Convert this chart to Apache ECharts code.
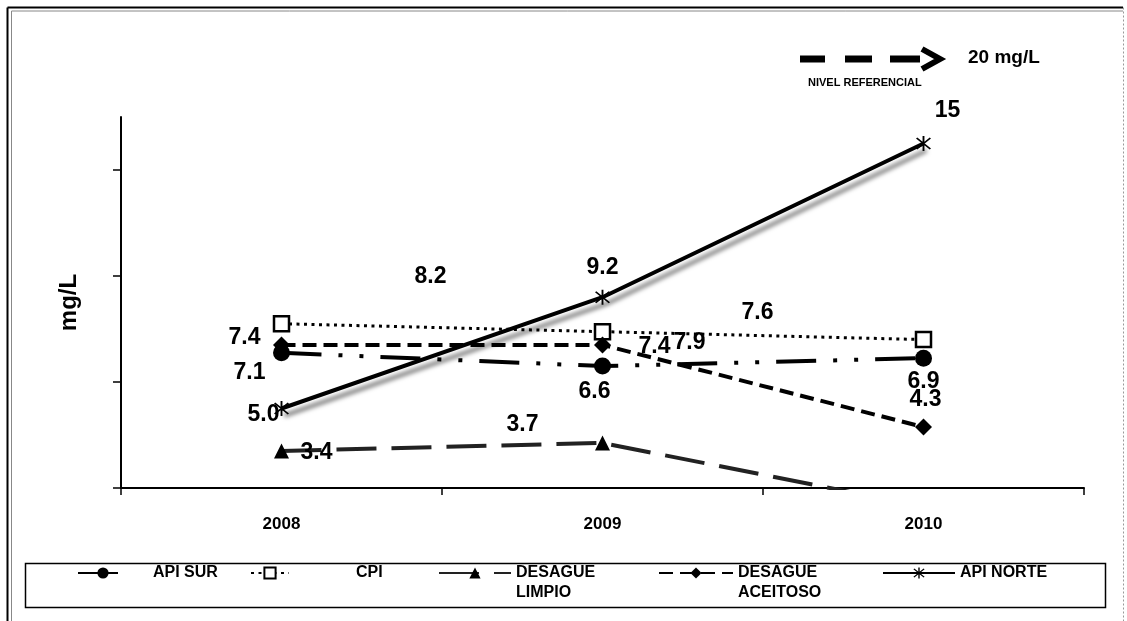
<!DOCTYPE html>
<html>
<head>
<meta charset="utf-8">
<style>
  html, body { margin: 0; padding: 0; background: #fff; }
  #chart { width: 1127px; height: 621px; }
</style>
<script src="https://cdn.jsdelivr.net/npm/echarts@6/dist/echarts.min.js"></script>
</head>
<body>
<div id="chart"></div>
<script>
// Years on the category axis
const years = ['2008', '2009', '2010'];

// Concentrations in mg/L per sampling point
const apiSur = [7.1, 6.6, 6.9];
const cpi = [8.2, 7.9, 7.6];
const desagueLimpio = [3.4, 3.7, 1.3];
const desagueAceitoso = [7.4, 7.4, 4.3];
const apiNorte = [5.0, 9.2, 15];

const seriesNames = ['API SUR', 'CPI', 'DESAGUE\nLIMPIO', 'DESAGUE\nACEITOSO', 'API NORTE'];

// Value-axis ticks (no tick labels are printed)
const yTicks = [2, 6, 10, 14];

// Where each value label sits relative to its point (null = no label)
const labelOffsets = {
  apiSur:   [[-32, 20], [-8, 26], [0, 24]],
  cpi:      [[149, -47], [87, 11], [-166, -27]],
  limpio:   [[35, 2], [-80, -18], null],
  aceitoso: [[-37, -7], [52, 2], [2, -27]],
  norte:    [[-18, 6], [0, -30], [24, -33]]
};

const FONT = '"Liberation Sans", Arial, sans-serif';

function fmt(v) {
  return (v >= 10 && Number.isInteger(v)) ? String(v) : v.toFixed(1);
}

function withLabels(values, offsets) {
  return values.map((v, i) => {
    const off = offsets[i];
    return {
      value: v,
      label: off ? { show: true, position: 'inside', offset: off } : { show: false }
    };
  });
}

const labelStyle = {
  show: true,
  formatter: p => fmt(p.value),
  fontFamily: FONT,
  fontSize: 23,
  fontWeight: 'bold',
  color: '#000'
};

// Asterisk marker built from three thin bars
const starPath = 'path://M9,0 L11,0 L11,20 L9,20 Z M2,3.4 L3.4,2 L18,16.6 L16.6,18 Z M16.6,2 L18,3.4 L3.4,18 L2,16.6 Z';

const series = [
  {
    name: seriesNames[0], type: 'line',
    data: withLabels(apiSur, labelOffsets.apiSur),
    symbol: 'circle', symbolSize: 17,
    lineStyle: { color: '#000', width: 4, type: [40, 17, 4, 17, 4, 17] },
    itemStyle: { color: '#000' },
    label: labelStyle
  },
  {
    name: seriesNames[1], type: 'line',
    data: withLabels(cpi, labelOffsets.cpi),
    symbol: 'rect', symbolSize: 15,
    lineStyle: { color: '#000', width: 3, type: [3, 4.5] },
    itemStyle: { color: '#fff', borderColor: '#000', borderWidth: 2.5 },
    label: labelStyle
  },
  {
    name: seriesNames[2], type: 'line',
    data: withLabels(desagueLimpio, labelOffsets.limpio),
    symbol: 'triangle', symbolSize: 15,
    lineStyle: { color: '#222', width: 4, type: [40, 15] },
    itemStyle: { color: '#000' },
    label: labelStyle
  },
  {
    name: seriesNames[3], type: 'line',
    data: withLabels(desagueAceitoso, labelOffsets.aceitoso),
    symbol: 'diamond', symbolSize: 17,
    lineStyle: { color: '#000', width: 4, type: [14, 7] },
    itemStyle: { color: '#000' },
    label: labelStyle
  },
  {
    name: seriesNames[4], type: 'line',
    data: withLabels(apiNorte, labelOffsets.norte),
    symbol: starPath, symbolSize: 15,
    lineStyle: {
      color: '#000', width: 4,
      shadowColor: 'rgba(0,0,0,0.5)', shadowBlur: 4, shadowOffsetX: 3, shadowOffsetY: 7
    },
    itemStyle: { color: '#000' },
    label: labelStyle
  }
];

// One legend block per entry, laid out inside the framed strip
const legendSpecs = [
  { name: seriesNames[0], left: 77,  width: 50, padLeft: 20 },
  { name: seriesNames[1], left: 250, width: 38, padLeft: 62 },
  { name: seriesNames[2], left: 438, width: 72, padLeft: 0 },
  { name: seriesNames[3], left: 658, width: 74, padLeft: 0 },
  { name: seriesNames[4], left: 882, width: 72, padLeft: 0 }
];
const legendIconCenter = 573;
const legendLine = 20;

const legends = legendSpecs.map(s => {
  const twoLine = s.name.indexOf('\n') >= 0;
  return {
    data: [s.name],
    orient: 'horizontal',
    left: s.left,
    top: twoLine ? legendIconCenter - 1.5 * legendLine : legendIconCenter - legendLine / 2,
    padding: 0,
    itemWidth: s.width,
    itemHeight: 14,
    selectedMode: false,
    // an empty first line keeps the first word level with the icon
    formatter: name => (twoLine ? '\n' + name : name),
    lineStyle: { width: 2 },
    textStyle: {
      fontFamily: FONT, fontSize: 16, fontWeight: 'bold', color: '#000',
      lineHeight: legendLine,
      padding: [0, 0, 0, s.padLeft]
    }
  };
});

const chart = echarts.init(document.getElementById('chart'), null, { renderer: 'canvas' });

chart.setOption({
  backgroundColor: '#fff',
  animation: false,
  grid: { left: 121, right: 43, top: 117, bottom: 133 },
  legend: legends,
  xAxis: {
    type: 'category',
    data: years,
    boundaryGap: true,
    axisLine: { lineStyle: { color: '#000', width: 2 } },
    axisTick: { show: true, length: 7, lineStyle: { color: '#000', width: 1.5 } },
    axisLabel: { fontFamily: FONT, fontSize: 17, fontWeight: 'bold', color: '#000', margin: 28 },
    splitLine: { show: false }
  },
  yAxis: {
    type: 'value',
    min: 2, max: 16, interval: 4,
    name: 'mg/L',
    nameLocation: 'middle',
    nameGap: 40,
    nameTextStyle: { fontFamily: FONT, fontSize: 24, fontWeight: 'bold', color: '#000' },
    axisLine: { show: true, lineStyle: { color: '#000', width: 2 } },
    axisTick: { show: true, length: 8, customValues: yTicks, lineStyle: { color: '#000', width: 1.5 } },
    axisLabel: { show: false },
    splitLine: { show: false }
  },
  series: series,
  graphic: [
    // outer double frame
    { type: 'line', shape: { x1: 7.5, y1: 7.5, x2: 1123, y2: 7.5 }, style: { stroke: '#000', lineWidth: 2 } },
    { type: 'line', shape: { x1: 11.5, y1: 11, x2: 1123, y2: 11 }, style: { stroke: '#888', lineWidth: 1 } },
    { type: 'line', shape: { x1: 7.5, y1: 7.5, x2: 7.5, y2: 621 }, style: { stroke: '#000', lineWidth: 2 } },
    { type: 'line', shape: { x1: 11.5, y1: 11, x2: 11.5, y2: 621 }, style: { stroke: '#888', lineWidth: 1 } },
    { type: 'line', shape: { x1: 1123.5, y1: 7.5, x2: 1123.5, y2: 621 }, style: { stroke: '#999', lineWidth: 1, lineDash: [2, 2] } },
    // legend frame
    { type: 'rect', shape: { x: 25.5, y: 563.5, width: 1080, height: 44 }, style: { fill: 'none', stroke: '#000', lineWidth: 1.5 }, z: -1 },
    // reference-level arrow and caption
    { type: 'rect', shape: { x: 800, y: 55.5, width: 25, height: 7 }, style: { fill: '#000' } },
    { type: 'rect', shape: { x: 845, y: 55.5, width: 27, height: 7 }, style: { fill: '#000' } },
    { type: 'rect', shape: { x: 890, y: 55.5, width: 30, height: 7 }, style: { fill: '#000' } },
    { type: 'polyline', shape: { points: [[922, 49], [940, 59], [922, 69]] }, style: { stroke: '#000', lineWidth: 6, fill: 'none', lineJoin: 'miter' } },
    { type: 'text', left: 968, top: 48, style: { text: '20 mg/L', fontFamily: FONT, fontSize: 19, fontWeight: 'bold', fill: '#000' } },
    { type: 'text', left: 808, top: 77, style: { text: 'NIVEL REFERENCIAL', fontFamily: FONT, fontSize: 11, fontWeight: 'bold', fill: '#000' } }
  ]
});
</script>
</body>
</html>
